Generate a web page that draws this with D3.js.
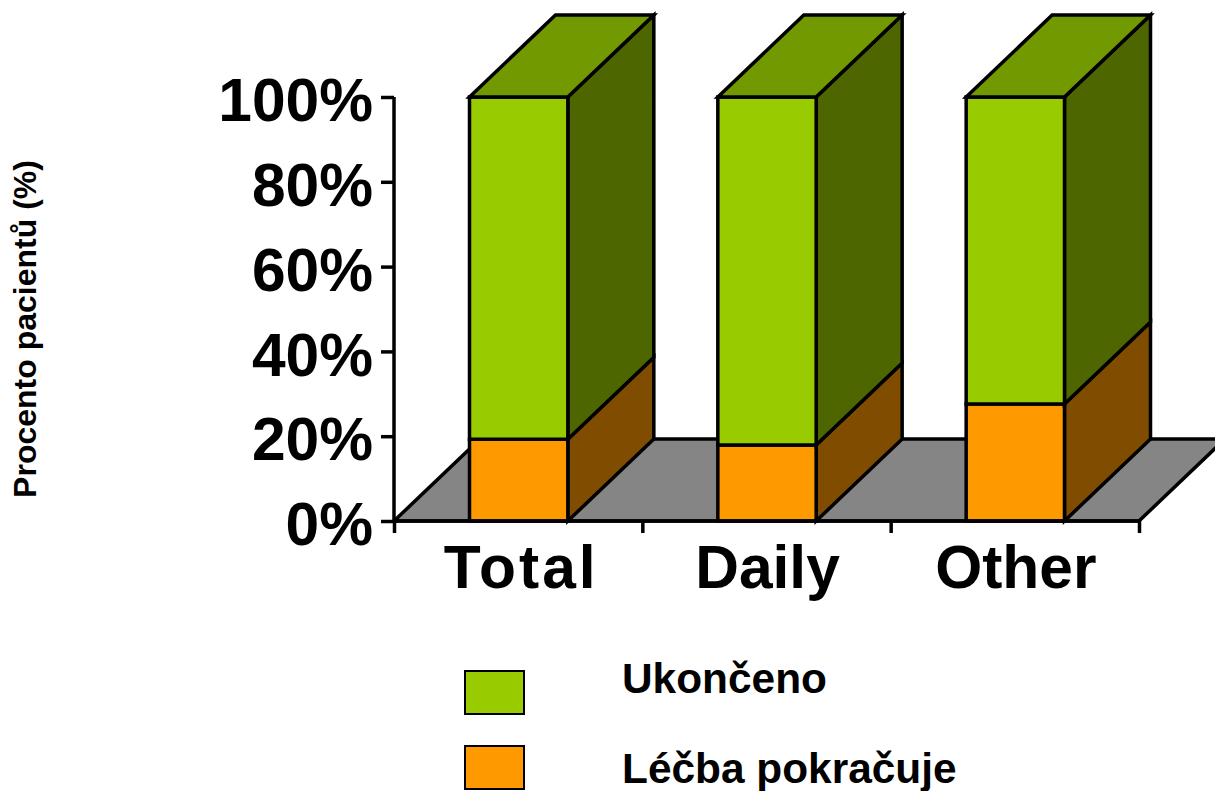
<!DOCTYPE html>
<html>
<head>
<meta charset="utf-8">
<script src="https://d3js.org/d3.v7.min.js"></script>
<style>
  body { margin: 0; background: #fff; overflow: hidden; }
  text { font-family: "Liberation Sans", Arial, sans-serif; font-weight: bold; fill: #000; }
</style>
</head>
<body>
<div id="chart"></div>
<script>
// Chart data
var categories = ["Total", "Daily", "Other"];
var continuing = [19.3, 17.9, 27.6];
var finished = [80.7, 82.1, 72.4];
var seriesNames = ["Ukončeno", "Léčba pokračuje"];
var percentTicks = [0, 20, 40, 60, 80, 100];
var yTitle = "Procento pacientů (%)";

var svgWidth = 1215;
var svgHeight = 791;

// Plot box and the offset of the 3D depth
var plot = { left: 394, right: 1139, top: 97, bottom: 521 };
var depthX = 86;
var depthY = -82;

var colors = {
  green: "#99cc00",
  greenTop: "#739900",
  greenSide: "#4d6600",
  orange: "#ff9900",
  orangeSide: "#804c00",
  floor: "#858585"
};

var svg = d3.select("#chart")
  .append("svg")
  .attr("width", svgWidth)
  .attr("height", svgHeight)
  .style("display", "block");

var xScale = d3.scaleBand()
  .domain(categories)
  .range([plot.left, plot.right])
  .paddingInner(0.6)
  .paddingOuter(0.3);

// Tick marks sit on the band edges, not the centres
var xEdges = d3.scaleLinear()
  .domain([0, categories.length])
  .range([plot.left, plot.right]);

var yScale = d3.scaleLinear()
  .domain([0, 100])
  .range([plot.bottom, plot.top]);

function polygon(points, fill) {
  svg.append("polygon")
    .attr("points", points.map(p => p.join(",")).join(" "))
    .attr("fill", fill)
    .attr("stroke", "#000")
    .attr("stroke-width", 3.5)
    .attr("stroke-linejoin", "miter");
}

// Floor
polygon([
  [plot.left, plot.bottom],
  [plot.left + depthX, plot.bottom + depthY],
  [plot.right + depthX, plot.bottom + depthY],
  [plot.right, plot.bottom]
], colors.floor);

// One block of a stacked 3D bar
function block(x0, x1, y0, y1, front, side) {
  polygon([[x1, y0], [x1 + depthX, y0 + depthY], [x1 + depthX, y1 + depthY], [x1, y1]], side);
  polygon([[x0, y0], [x1, y0], [x1, y1], [x0, y1]], front);
}

categories.forEach(function(cat, i) {
  var x0 = xScale(cat) + 1;
  var x1 = x0 + xScale.bandwidth() - 1;
  var yBase = yScale(0);
  var yMid = yScale(continuing[i]);
  var yTop = yScale(continuing[i] + finished[i]);

  block(x0, x1, yBase, yMid, colors.orange, colors.orangeSide);
  block(x0, x1, yMid, yTop, colors.green, colors.greenSide);

  // Top face
  polygon([
    [x0, yTop],
    [x0 + depthX, yTop + depthY],
    [x1 + depthX, yTop + depthY],
    [x1, yTop]
  ], colors.greenTop);
});

// Y axis
var leftAxis = d3.axisLeft(yScale)
  .tickValues(percentTicks)
  .tickFormat(d => d + "%")
  .tickSize(13)
  .tickPadding(8);

var yAxis = svg.append("g")
  .attr("transform", `translate(${plot.left}, 0)`)
  .call(leftAxis);

yAxis.selectAll("path, line").attr("stroke", "#000").attr("stroke-width", 3.5);
yAxis.select("path").attr("d", `M0,${plot.top}V${plot.bottom}`);
yAxis.selectAll("text")
  .attr("dy", "0.39em")
  .attr("font-size", 60.5)
  .attr("font-family", "Liberation Sans")
  .attr("font-weight", "bold")
  .attr("fill", "#000");

// X axis
var bottomAxis = d3.axisBottom(xEdges)
  .tickValues(d3.range(categories.length + 1))
  .tickFormat("")
  .tickSize(12);

var xAxis = svg.append("g")
  .attr("transform", `translate(0, ${plot.bottom})`)
  .call(bottomAxis);

xAxis.selectAll("path, line").attr("stroke", "#000").attr("stroke-width", 3.5);
xAxis.select("path").attr("d", `M${plot.left},0H${plot.right}`);

svg.selectAll(".cat-label")
  .data(categories)
  .enter()
  .append("text")
  .attr("class", "cat-label")
  .attr("x", d => xScale(d) + xScale.bandwidth() / 2 + (d === "Total" ? 3 : 1))
  .attr("y", 588)
  .attr("text-anchor", "middle")
  .attr("font-size", 60.5)
  .attr("letter-spacing", d => d === "Total" ? 3 : 0)
  .text(d => d);

// Y axis title
svg.append("text")
  .attr("transform", "translate(36, 329) rotate(-90)")
  .attr("text-anchor", "middle")
  .attr("font-size", 32)
  .text(yTitle);

// Legend
var legendY = d3.scalePoint()
  .domain(seriesNames)
  .range([671, 746]);

var legendColor = d3.scaleOrdinal()
  .domain(seriesNames)
  .range([colors.green, colors.orange]);

svg.selectAll(".legend-box")
  .data(seriesNames)
  .enter()
  .append("rect")
  .attr("class", "legend-box")
  .attr("x", 465)
  .attr("y", d => legendY(d))
  .attr("width", 59)
  .attr("height", 43)
  .attr("fill", d => legendColor(d))
  .attr("stroke", "#000")
  .attr("stroke-width", 2);

svg.selectAll(".legend-label")
  .data(seriesNames)
  .enter()
  .append("text")
  .attr("class", "legend-label")
  .attr("x", 622)
  .attr("y", d => d === seriesNames[0] ? 693 : 783)
  .attr("font-size", 42.4)
  .text(d => d);
</script>
</body>
</html>
